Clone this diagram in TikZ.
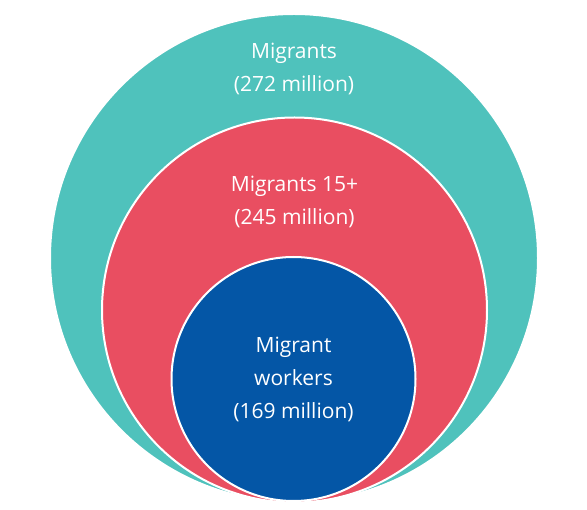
\documentclass[tikz,border=0pt]{standalone}
\usepackage{fontspec}
\setmainfont{Open Sans}
\usepackage{xcolor}
\usetikzlibrary{positioning}

\definecolor{allteal}{HTML}{4FC2BC}
\definecolor{adultred}{HTML}{E94E61}
\definecolor{workblue}{HTML}{0456A6}

\begin{document}
\begin{tikzpicture}[
  x=1pt, y=1pt,
  ring/.style={circle, draw=white, line width=2pt, inner sep=0pt, outer sep=0pt},
  lbl/.style={align=center, text=white, inner sep=0pt,
    font=\fontsize{21}{33}\selectfont}
]
\useasboundingbox (0,0) rectangle (587,-510);
\node[ring, fill=allteal, minimum size=488pt] (all) at (294,-258) {};
\node[ring, fill=adultred, minimum size=385pt] (adult) at (294.5,-310) {};
\node[ring, fill=workblue, minimum size=244pt] (work) at (293.5,-379) {};
% labels
\node[lbl, below=29pt of all.north] (alltxt) {Migrants\\(272 million)};
\node[lbl, below=58pt of adult.north] (adulttxt) {Migrants 15+\\(245 million)};
\node[lbl, below=80pt of work.north] (worktxt) {Migrant\\workers\\(169 million)};
\end{tikzpicture}
\end{document}
